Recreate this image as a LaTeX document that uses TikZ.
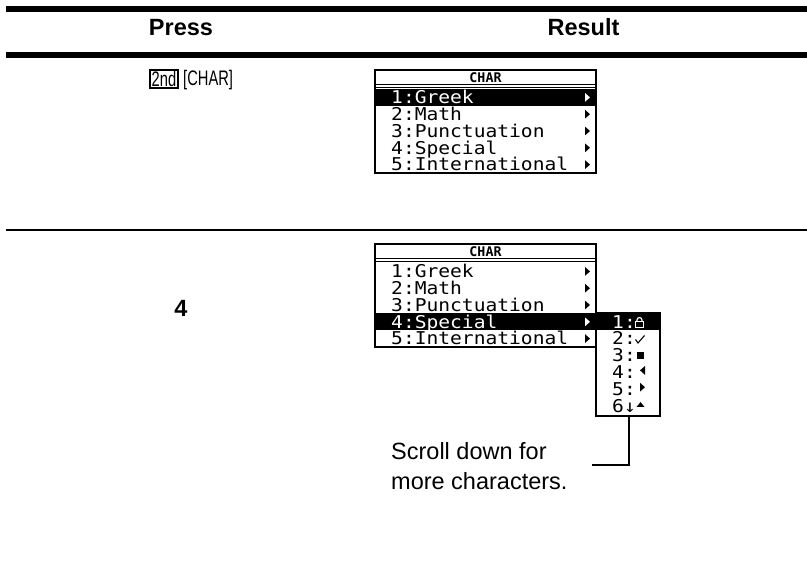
\documentclass[tikz,border=0pt]{standalone}
\usepackage{fontspec}
\usepackage{graphicx}
\setmainfont{Liberation Sans}
\newfontfamily\lcdfont{DejaVu Sans Mono}

% calculator screen text and key captions
\newcommand{\lcd}[1]{\scalebox{1}[0.9]{\lcdfont\fontsize{19.6}{17}\selectfont #1}}
\newcommand{\keylabel}[1]{\scalebox{0.7}[1]{\fontsize{21}{21}\selectfont #1}}

\begin{document}
\begin{tikzpicture}[x=1pt,y=-1pt,
    headtext/.style={font=\fontsize{23.5}{28}\selectfont\bfseries, anchor=base, inner sep=0pt},
    bodytext/.style={font=\fontsize{23.5}{28}\selectfont, anchor=base west, inner sep=0pt},
    lcdrow/.style={anchor=base west, inner sep=0pt},
    lcdtitle/.style={font=\lcdfont\bfseries\fontsize{13.3}{13}\selectfont, inner sep=0pt},
    screen/.style={line width=1.8pt},
    keybox/.style={draw, line width=1.1pt, inner sep=1pt, minimum width=28pt, minimum height=18pt}]

    \useasboundingbox (0,0) rectangle (807,585);

    % Table rules
    \draw[line width=6pt] (6,9) -- (807,9);
    \draw[line width=5.5pt] (6,54.8) -- (807,54.8);
    \draw[line width=2.2pt] (6,230) -- (807,230);

    % Column heads
    \node[headtext] (press) at (181,36) {Press};
    \node[headtext] (result) at (583.5,36) {Result};

    % Keys of the first step
    \node[keybox] (key2nd) at (164,79) {\keylabel{2nd}};
    \node[anchor=base west, inner sep=0pt] (keychar) at (183,86) {\keylabel{[CHAR]}};

    % First screen: CHAR menu with Greek selected
    \fill (375,89) rectangle (596,105.8);
    \draw[screen] (375,70) rectangle (596,173);
    \node[lcdtitle] (title1) at (485.5,77.5) {CHAR};
    \draw[line width=1.2pt] (375,84.5) -- (596,84.5);
    \draw[line width=1.2pt] (375,87.5) -- (596,87.5);
    \node[lcdrow, text=white] (greek1) at (391,103.8) {\lcd{1:Greek}};
    \node[lcdrow] (math1) at (391,120.6) {\lcd{2:Math}};
    \node[lcdrow] (punct1) at (391,137.4) {\lcd{3:Punctuation}};
    \node[lcdrow] (special1) at (391,154.2) {\lcd{4:Special}};
    \node[lcdrow] (intl1) at (391,171) {\lcd{5:International}};

    % pointers of screen one
    \fill[white] (585,93) -- (590,97.4) -- (585,101.8) -- cycle;
    \fill (585,109.8) -- (590,114.2) -- (585,118.6) -- cycle;
    \fill (585,126.6) -- (590,131) -- (585,135.4) -- cycle;
    \fill (585,143.4) -- (590,147.8) -- (585,152.2) -- cycle;
    \fill (585,160.2) -- (590,164.6) -- (585,169) -- cycle;

    % Key of the second step
    \node[headtext] (key4) at (181,317) {4};

    % Second screen: CHAR menu with Special selected
    \fill (375,313.4) rectangle (596,330.2);
    \draw[screen] (375,244) rectangle (596,347);
    \node[lcdtitle] (title2) at (485.5,251.5) {CHAR};
    \draw[line width=1.2pt] (375,258.5) -- (596,258.5);
    \draw[line width=1.2pt] (375,261.5) -- (596,261.5);
    \node[lcdrow] (greek2) at (391,277.8) {\lcd{1:Greek}};
    \node[lcdrow] (math2) at (391,294.6) {\lcd{2:Math}};
    \node[lcdrow] (punct2) at (391,311.4) {\lcd{3:Punctuation}};
    \node[lcdrow, text=white] (special2) at (391,328.2) {\lcd{4:Special}};
    \node[lcdrow] (intl2) at (391,345) {\lcd{5:International}};

    % pointers of screen two
    \fill (585,267) -- (590,271.4) -- (585,275.8) -- cycle;
    \fill (585,283.8) -- (590,288.2) -- (585,292.6) -- cycle;
    \fill (585,300.6) -- (590,305) -- (585,309.4) -- cycle;
    \fill[white] (585,317.4) -- (590,321.8) -- (585,326.2) -- cycle;
    \fill (585,334.2) -- (590,338.6) -- (585,343) -- cycle;

    % Special submenu
    \fill (596,313.4) rectangle (660,330.2);
    \draw[screen] (596,313.4) rectangle (660,416);
    \node[lcdrow, text=white] (sub1) at (612,328.2) {\lcd{1:}};
    \node[lcdrow] (sub2) at (612,345) {\lcd{2:}};
    \node[lcdrow] (sub3) at (612,361.8) {\lcd{3:}};
    \node[lcdrow] (sub4) at (612,378.6) {\lcd{4:}};
    \node[lcdrow] (sub5) at (612,395.4) {\lcd{5:}};
    \node[lcdrow] (sub6) at (612,412.2) {\lcd{6↓}};

    % lock, check, square and triangles
    \draw[white, line width=1.1pt] (635.5,321.5) rectangle (643.5,327.5);
    \draw[white, line width=1.1pt] (637,321.5) -- (637,320) arc[start angle=180, end angle=360, radius=2.5] -- (642,321.5);
    \draw[line width=1.1pt] (635.5,339.5) -- (638,343) -- (644.5,335.5);
    \fill (637,352.5) rectangle (644,359.5);
    \fill (645,366) -- (640,370.4) -- (645,374.8) -- cycle;
    \fill (640,382.8) -- (645,387.2) -- (640,391.6) -- cycle;
    \fill (636.5,407) -- (640.5,402) -- (644.5,407) -- cycle;

    % Callout for the scroll arrow
    \coordinate (subfoot) at (629,417);
    \coordinate (bend) at (629,465);
    \coordinate (leadend) at (592,465);
    \draw[line width=2pt] (subfoot) -- (bend) -- (leadend);
    \node[bodytext] (scroll) at (391,460) {Scroll down for};
    \node[bodytext] (more) at (391,490) {more characters.};
  \end{tikzpicture}
\end{document}
